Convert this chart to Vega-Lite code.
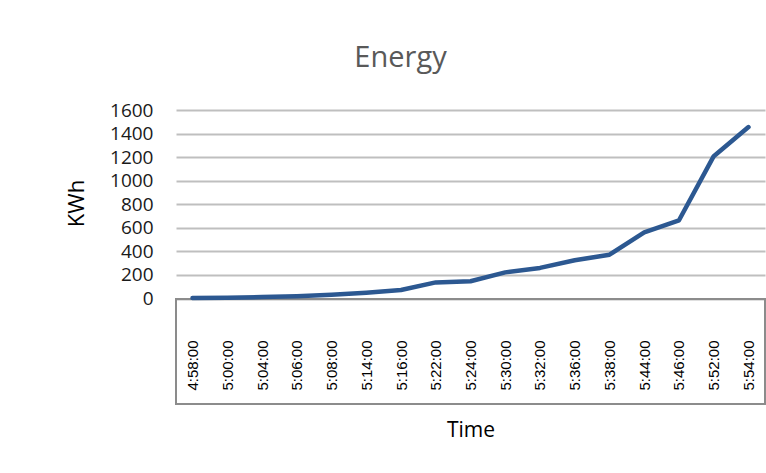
{
  "$schema": "https://vega.github.io/schema/vega-lite/v6.json",
  "width": 589,
  "height": 294,
  "autosize": {"type": "none"},
  "padding": {"left": 176, "top": 110, "right": 1, "bottom": 69},
  "background": "white",
  "config": {"view": {"stroke": null}},
  "title": {
    "text": "Energy",
    "anchor": "middle",
    "dx": -70,
    "offset": 28,
    "font": "Open Sans",
    "fontSize": 29,
    "fontWeight": "normal",
    "color": "#595959"
  },
  "data": {
    "values": [
      {"Time": "4:58:00", "KWh": 4},
      {"Time": "5:00:00", "KWh": 7},
      {"Time": "5:04:00", "KWh": 13},
      {"Time": "5:06:00", "KWh": 20},
      {"Time": "5:08:00", "KWh": 33},
      {"Time": "5:14:00", "KWh": 50},
      {"Time": "5:16:00", "KWh": 72},
      {"Time": "5:22:00", "KWh": 137},
      {"Time": "5:24:00", "KWh": 147},
      {"Time": "5:30:00", "KWh": 222},
      {"Time": "5:32:00", "KWh": 260},
      {"Time": "5:36:00", "KWh": 325},
      {"Time": "5:38:00", "KWh": 372},
      {"Time": "5:44:00", "KWh": 562},
      {"Time": "5:46:00", "KWh": 664},
      {"Time": "5:52:00", "KWh": 1208},
      {"Time": "5:54:00", "KWh": 1455}
    ]
  },
  "layer": [
    {
      "mark": {"type": "rect", "fill": "transparent", "stroke": "#8c8c8c", "strokeWidth": 1.2},
      "encoding": {
        "y": {
          "datum": 0,
          "type": "quantitative",
          "scale": {"domain": [-895, 1600], "nice": false, "zero": false},
          "axis": {
            "values": [0, 200, 400, 600, 800, 1000, 1200, 1400, 1600],
            "format": "d",
            "labelOverlap": false,
            "domain": false,
            "ticks": false,
            "grid": true,
            "gridColor": "#bfbfbf",
            "gridWidth": 2,
            "labelFont": "Open Sans",
            "labelFontSize": 19,
            "labelColor": "#1a1a1a",
            "labelPadding": 23,
            "title": "KWh",
            "titleFont": "Open Sans",
            "titleFontSize": 22,
            "titleFontWeight": "normal",
            "titleColor": "#000000",
            "titleAngle": -90,
            "titleX": -88,
            "titleY": 93,
            "titleBaseline": "bottom"
          }
        },
        "y2": {"datum": -895}
      }
    },
    {
      "mark": {"type": "line", "color": "#2C5891", "strokeWidth": 4.5, "strokeJoin": "round", "strokeCap": "round"},
      "encoding": {
        "x": {
          "field": "Time",
          "type": "ordinal",
          "sort": null,
          "scale": {"type": "point", "padding": 0.475},
          "axis": {
            "offset": -105,
            "domain": false,
            "ticks": false,
            "labelAngle": -90,
            "labelAlign": "right",
            "labelBaseline": "middle",
            "labelPadding": 41,
            "labelFont": "Liberation Sans",
            "labelFontSize": 15,
            "labelColor": "#000000",
            "title": "Time",
            "titleFont": "Open Sans",
            "titleFontSize": 21,
            "titleFontWeight": "normal",
            "titleColor": "#000000",
            "titlePadding": 29
          }
        },
        "y": {
          "field": "KWh",
          "type": "quantitative",
          "scale": {"domain": [-895, 1600], "nice": false, "zero": false},
          "axis": {
            "values": [0, 200, 400, 600, 800, 1000, 1200, 1400, 1600],
            "format": "d",
            "labelOverlap": false,
            "domain": false,
            "ticks": false,
            "grid": true,
            "gridColor": "#bfbfbf",
            "gridWidth": 2,
            "labelFont": "Open Sans",
            "labelFontSize": 19,
            "labelColor": "#1a1a1a",
            "labelPadding": 23,
            "title": "KWh",
            "titleFont": "Open Sans",
            "titleFontSize": 22,
            "titleFontWeight": "normal",
            "titleColor": "#000000",
            "titleAngle": -90,
            "titleX": -88,
            "titleY": 93,
            "titleBaseline": "bottom"
          }
        }
      }
    }
  ]
}
